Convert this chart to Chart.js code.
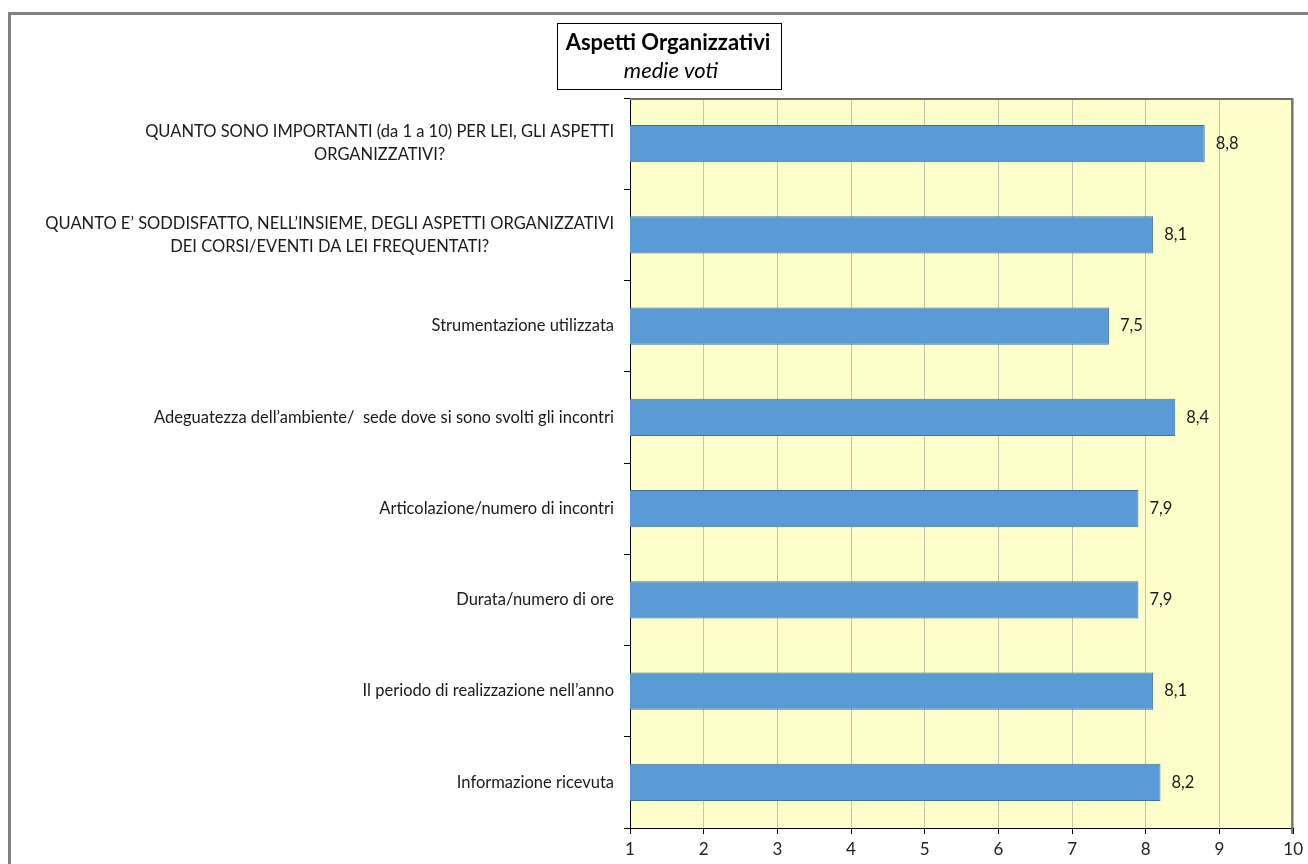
<!DOCTYPE html>
<html>
<head>
<meta charset="utf-8">
<script src="https://cdn.jsdelivr.net/npm/chart.js@4.4.1/dist/chart.umd.min.js"></script>
<style>
  body { margin: 0; background: #fff; }
  #wrap { position: relative; width: 1308px; height: 864px; overflow: hidden; }
  #frame { position: absolute; left: 8px; top: 12px; width: 1400px; height: 900px;
           border-left: 3px solid #808080; border-top: 3px solid #808080; box-sizing: border-box; }
  #c { position: absolute; left: 0; top: 0; }
</style>
</head>
<body>
<div id="wrap">
  <div id="frame"></div>
  <canvas id="c" width="1308" height="864"></canvas>
</div>
<script>
const labels = [
  ["QUANTO SONO IMPORTANTI (da 1 a 10) PER LEI, GLI ASPETTI", "ORGANIZZATIVI?"],
  ["QUANTO E\u2019 SODDISFATTO, NELL\u2019INSIEME, DEGLI ASPETTI ORGANIZZATIVI", "DEI CORSI/EVENTI DA LEI FREQUENTATI?"],
  "Strumentazione utilizzata",
  "Adeguatezza dell\u2019ambiente/  sede dove si sono svolti gli incontri",
  "Articolazione/numero di incontri",
  "Durata/numero di ore",
  "Il periodo di realizzazione nell\u2019anno",
  "Informazione ricevuta"
];
const values = [8.8, 8.1, 7.5, 8.4, 7.9, 7.9, 8.1, 8.2];
const xMin = 1, xMax = 10;

const FONT = "Lato, 'Open Sans', sans-serif";

// sfondo giallo dell'area del grafico
const plotBg = {
  id: "plotBg",
  beforeDraw(chart) {
    const { ctx, chartArea: a } = chart;
    ctx.save();
    ctx.fillStyle = "#FFFFCC";
    ctx.fillRect(a.left, a.top, a.right - a.left, a.bottom - a.top);
    ctx.restore();
  },
  afterDatasetsDraw(chart) {
    const { ctx, chartArea: a } = chart;
    ctx.save();
    ctx.strokeStyle = "#707070";
    ctx.lineWidth = 2;
    ctx.beginPath();
    ctx.moveTo(a.left, a.top + 1);
    ctx.lineTo(a.right - 1, a.top + 1);
    ctx.lineTo(a.right - 1, a.bottom + 6);
    ctx.stroke();
    ctx.restore();
  }
};

// titolo nel riquadro, etichette categorie e valori
const extras = {
  id: "extras",
  afterDraw(chart) {
    const { ctx } = chart;
    const yScale = chart.scales.y;
    ctx.save();

    // riquadro titolo
    ctx.fillStyle = "#fff";
    ctx.fillRect(557, 23, 224, 66);
    ctx.strokeStyle = "#000";
    ctx.lineWidth = 1;
    ctx.strokeRect(557.5, 23.5, 224, 66);
    ctx.fillStyle = "#000";
    ctx.textAlign = "center";
    ctx.textBaseline = "middle";
    ctx.font = "bold 22px " + FONT;
    ctx.fillText("Aspetti Organizzativi", 668, 43);
    ctx.font = "italic 22px " + FONT;
    ctx.fillText("medie voti", 671, 71);

    // etichette asse y (righe centrate tra loro, blocco allineato a destra)
    ctx.font = "16.5px " + FONT;
    ctx.fillStyle = "#1a1a1a";
    const rightEdge = yScale.right - 16;
    labels.forEach((lab, i) => {
      const lines = Array.isArray(lab) ? lab : [lab];
      const y = yScale.getPixelForTick(i);
      const w = Math.max(...lines.map(l => ctx.measureText(l).width));
      const cx = rightEdge - w / 2;
      const lh = 23;
      lines.forEach((l, j) => {
        ctx.fillText(l, cx, y + (j - (lines.length - 1) / 2) * lh);
      });
    });

    // valori a destra delle barre
    ctx.font = "16.5px " + FONT;
    ctx.textAlign = "left";
    const meta = chart.getDatasetMeta(0);
    meta.data.forEach((bar, i) => {
      ctx.fillText(values[i].toFixed(1).replace(".", ","), bar.x + 11, bar.y);
    });
    ctx.restore();
  }
};

new Chart("c", {
  type: "bar",
  data: {
    labels: labels,
    datasets: [{
      data: values,
      backgroundColor: "#5B9BD5",
      borderColor: "#41719C",
      borderWidth: 1,
      barPercentage: 0.41,
      categoryPercentage: 1
    }]
  },
  options: {
    indexAxis: "y",
    responsive: false,
    animation: false,
    layout: { padding: { top: 98, right: 12, left: 0, bottom: 0 } },
    plugins: { legend: { display: false }, tooltip: { enabled: false } },
    scales: {
      x: {
        min: xMin,
        max: xMax,
        ticks: { stepSize: 1, color: "#222", padding: 5, font: { family: FONT, size: 17 } },
        grid: { color: "#c8c4a6", tickColor: "#000", tickLength: 6 },
        border: { color: "#000" },
        afterFit(scale) { scale.height = 36; }
      },
      y: {
        ticks: { display: false },
        grid: { drawOnChartArea: false, offset: true, color: "#000", tickLength: 6 },
        border: { color: "#000" },
        afterFit(scale) { scale.width = 630; }
      }
    }
  },
  plugins: [plotBg, extras]
});
</script>
</body>
</html>
